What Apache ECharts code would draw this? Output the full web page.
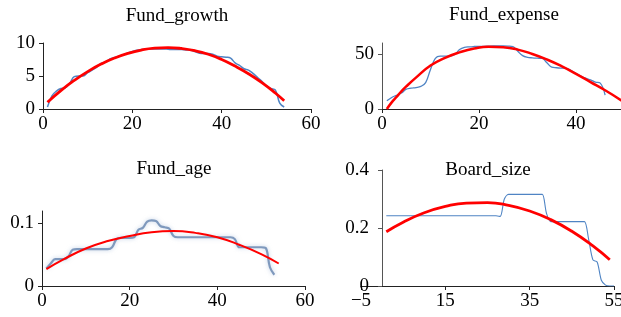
<!DOCTYPE html>
<html>
<head>
<meta charset="utf-8">
<script src="https://cdn.jsdelivr.net/npm/echarts@6/dist/echarts.min.js"></script>
<style>
html,body{margin:0;padding:0;background:#fff;}
#main{width:621px;height:317px;}
</style>
</head>
<body>
<div id="main"></div>
<script>
// Fund_growth: smoothed estimate (x = 1..54) and quadratic fit
var growthBlue = [0.3,2.0,2.7,3.1,3.2,3.9,4.9,5.0,5.0,5.5,5.9,6.3,6.9,7.1,7.6,7.8,8.0,8.2,8.5,8.7,8.9,9.0,9.05,9.1,9.1,9.1,9.1,9.05,9.0,9.0,9.0,8.95,8.9,8.7,8.45,8.4,8.4,8.3,8.0,7.9,7.85,7.7,7.0,6.6,6.1,5.9,5.4,4.8,4.2,3.5,3.1,2.9,0.9,0.3];
var growthFitX = [1,4,7,10,13,16,19,22,25,28,31,34,37,40,43,46,49,52,54];
var growthFitY = [1.03,2.79,4.33,5.67,6.8,7.72,8.43,8.93,9.22,9.3,9.17,8.84,8.29,7.5,6.5,5.35,4.0,2.43,1.25];

// Fund_expense (x = 1..46)
var expenseBlue = [7.5,10.5,12.5,14.5,18,19,19.5,20.5,24,36,46,48,48,48,49.5,54,56,56.5,56.8,57,57,57.2,57.3,57.3,57.3,57.2,56.8,52.5,48.5,47,46.5,46.2,46,42,38,37.5,37.2,37,35,32.5,30,28,26.5,24.5,23.5,12.7];
var expenseFitX = [1,2,3,4,5,7,10,13,16,19,22,25,28,31,34,37,40,43,46,50];
var expenseFitY = [0,6,11,16,20.5,28.5,39.5,46.5,51.5,55,56.7,56.2,54,50,45,39,32,24.5,17,6];

// Fund_age (x = 1..53)
var ageBlue = [0.028,0.036,0.043,0.043,0.043,0.047,0.058,0.059,0.059,0.059,0.059,0.059,0.059,0.059,0.059,0.062,0.075,0.077,0.077,0.077,0.078,0.09,0.093,0.103,0.105,0.104,0.096,0.094,0.092,0.08,0.078,0.078,0.078,0.078,0.078,0.078,0.078,0.078,0.078,0.078,0.078,0.078,0.078,0.075,0.062,0.062,0.062,0.062,0.062,0.062,0.061,0.03,0.018];
var ageFitX = [1,5,10,15,20,25,30,35,40,45,50,54];
var ageFitY = [0.027,0.043,0.06,0.072,0.08,0.086,0.088,0.085,0.078,0.066,0.051,0.036];

// Board_size (x = 1..55)
var boardBlue = [0.242,0.242,0.242,0.242,0.242,0.242,0.242,0.242,0.242,0.242,0.242,0.242,0.242,0.242,0.242,0.242,0.242,0.242,0.242,0.242,0.242,0.242,0.242,0.242,0.242,0.242,0.242,0.24,0.3,0.316,0.316,0.316,0.316,0.316,0.316,0.316,0.316,0.316,0.25,0.222,0.222,0.222,0.222,0.222,0.222,0.222,0.222,0.222,0.16,0.09,0.083,0.02,0.003,0,0];
var boardFitX = [1,5,10,15,20,25,30,35,40,45,50,54];
var boardFitY = [0.187,0.22,0.2525,0.2744,0.286,0.2873,0.278,0.2587,0.2289,0.1887,0.1382,0.0904];

var titles = ['Fund_growth', 'Fund_expense', 'Fund_age', 'Board_size'];

function pairs(xs, ys) {
    return ys.map(function (v, i) { return [xs[i], v]; });
}
function idxPairs(ys) {
    return ys.map(function (v, i) { return [i + 1, v]; });
}

var font = 'Liberation Serif';
var axisCol = '#222';
var fs = 19;

function xAxisOf(gi, min, max, ticks) {
    return {
        type: 'value', gridIndex: gi, min: min, max: max,
        splitLine: {show: false},
        axisLine: {show: true, onZero: false, lineStyle: {color: axisCol, width: 1}},
        axisTick: {show: true, length: 4, lineStyle: {color: axisCol}, customValues: ticks},
        axisLabel: {
            color: '#000', fontFamily: font, fontSize: fs, margin: 6, customValues: ticks,
            formatter: function (v) { return String(v).replace('-', '\u2212'); }
        }
    };
}
// labels only at the listed values
function yAxisOf(gi, min, max, step, shown, col) {
    return {
        type: 'value', gridIndex: gi, min: min, max: max, interval: step,
        splitLine: {show: false},
        axisLine: {show: true, onZero: false, lineStyle: {color: col || axisCol, width: 1}},
        axisTick: {show: true, length: 4, lineStyle: {color: col || axisCol}, customValues: shown},
        axisLabel: {
            color: '#000', fontFamily: font, fontSize: fs, margin: 8,
            showMaxLabel: true,
            formatter: function (v) {
                for (var i = 0; i < shown.length; i++) {
                    if (Math.abs(v - shown[i]) < 1e-9) return String(shown[i]);
                }
                return '';
            }
        }
    };
}

var blue = '#4f84c4';
var red = '#ff0000';

var yAxes = [
    yAxisOf(0, 0, 10, 5, [0, 5, 10]),
    yAxisOf(1, 0, 60, 10, [0, 50], '#555'),
    yAxisOf(2, 0, 0.12, 0.02, [0, 0.1]),
    yAxisOf(3, 0, 0.4, 0.2, [0, 0.2, 0.4], '#555')
];
// Board_size: the y axis sits at x = 0, not at the left end (-5)
yAxes[3].offset = -21;
yAxes[3].axisLabel.margin = 13;

var option = {
    backgroundColor: '#fff',
    animation: false,
    title: [
        {text: titles[0], left: 177, top: 7, textAlign: 'center'},
        {text: titles[1], left: 504, top: 6, textAlign: 'center'},
        {text: titles[2], left: 174, top: 160, textAlign: 'center'},
        {text: titles[3], left: 488, top: 161, textAlign: 'center'}
    ].map(function (t) {
        t.padding = 0;
        t.textStyle = {fontFamily: font, fontSize: fs, fontWeight: 'normal', color: '#000'};
        return t;
    }),
    grid: [
        {left: 43, right: 310, top: 43, bottom: 208, outerBoundsMode: 'none'},
        {left: 382, right: -52, top: 43, bottom: 208, outerBoundsMode: 'none'},
        {left: 42, right: 316, top: 211, bottom: 31, outerBoundsMode: 'none'},
        {left: 361, right: 7, top: 170, bottom: 31, outerBoundsMode: 'none'}
    ],
    xAxis: [
        xAxisOf(0, 0, 60, [0, 20, 40, 60]),
        xAxisOf(1, 0, 60, [0, 20, 40, 60]),
        xAxisOf(2, 0, 60, [0, 20, 40, 60]),
        xAxisOf(3, -5, 55, [-5, 15, 35, 55])
    ],
    yAxis: yAxes,
    series: [
        {type: 'line', xAxisIndex: 0, yAxisIndex: 0, data: idxPairs(growthBlue), smooth: 0.4, showSymbol: false,
            lineStyle: {color: blue, width: 1.5}},
        {type: 'line', xAxisIndex: 0, yAxisIndex: 0, data: pairs(growthFitX, growthFitY), smooth: true, showSymbol: false,
            lineStyle: {color: red, width: 2.8}},
        {type: 'line', xAxisIndex: 1, yAxisIndex: 1, data: idxPairs(expenseBlue), smooth: 0.4, showSymbol: false,
            lineStyle: {color: blue, width: 1.3}},
        {type: 'line', xAxisIndex: 1, yAxisIndex: 1, data: pairs(expenseFitX, expenseFitY), smooth: true, showSymbol: false,
            lineStyle: {color: red, width: 2.5}},
        {type: 'line', xAxisIndex: 2, yAxisIndex: 2, data: idxPairs(ageBlue), smooth: 0.4, showSymbol: false,
            lineStyle: {color: '#7f99bd', width: 2.2, shadowBlur: 4, shadowColor: 'rgba(150,175,210,0.6)'}},
        {type: 'line', xAxisIndex: 2, yAxisIndex: 2, data: pairs(ageFitX, ageFitY), smooth: true, showSymbol: false,
            lineStyle: {color: red, width: 2}},
        {type: 'line', xAxisIndex: 3, yAxisIndex: 3, data: idxPairs(boardBlue), smooth: 0.3, showSymbol: false,
            lineStyle: {color: blue, width: 1.1}},
        {type: 'line', xAxisIndex: 3, yAxisIndex: 3, data: pairs(boardFitX, boardFitY), smooth: true, showSymbol: false,
            lineStyle: {color: red, width: 2.8}}
    ]
};

var myChart = echarts.init(document.getElementById('main'));
myChart.setOption(option);
</script>
</body>
</html>
